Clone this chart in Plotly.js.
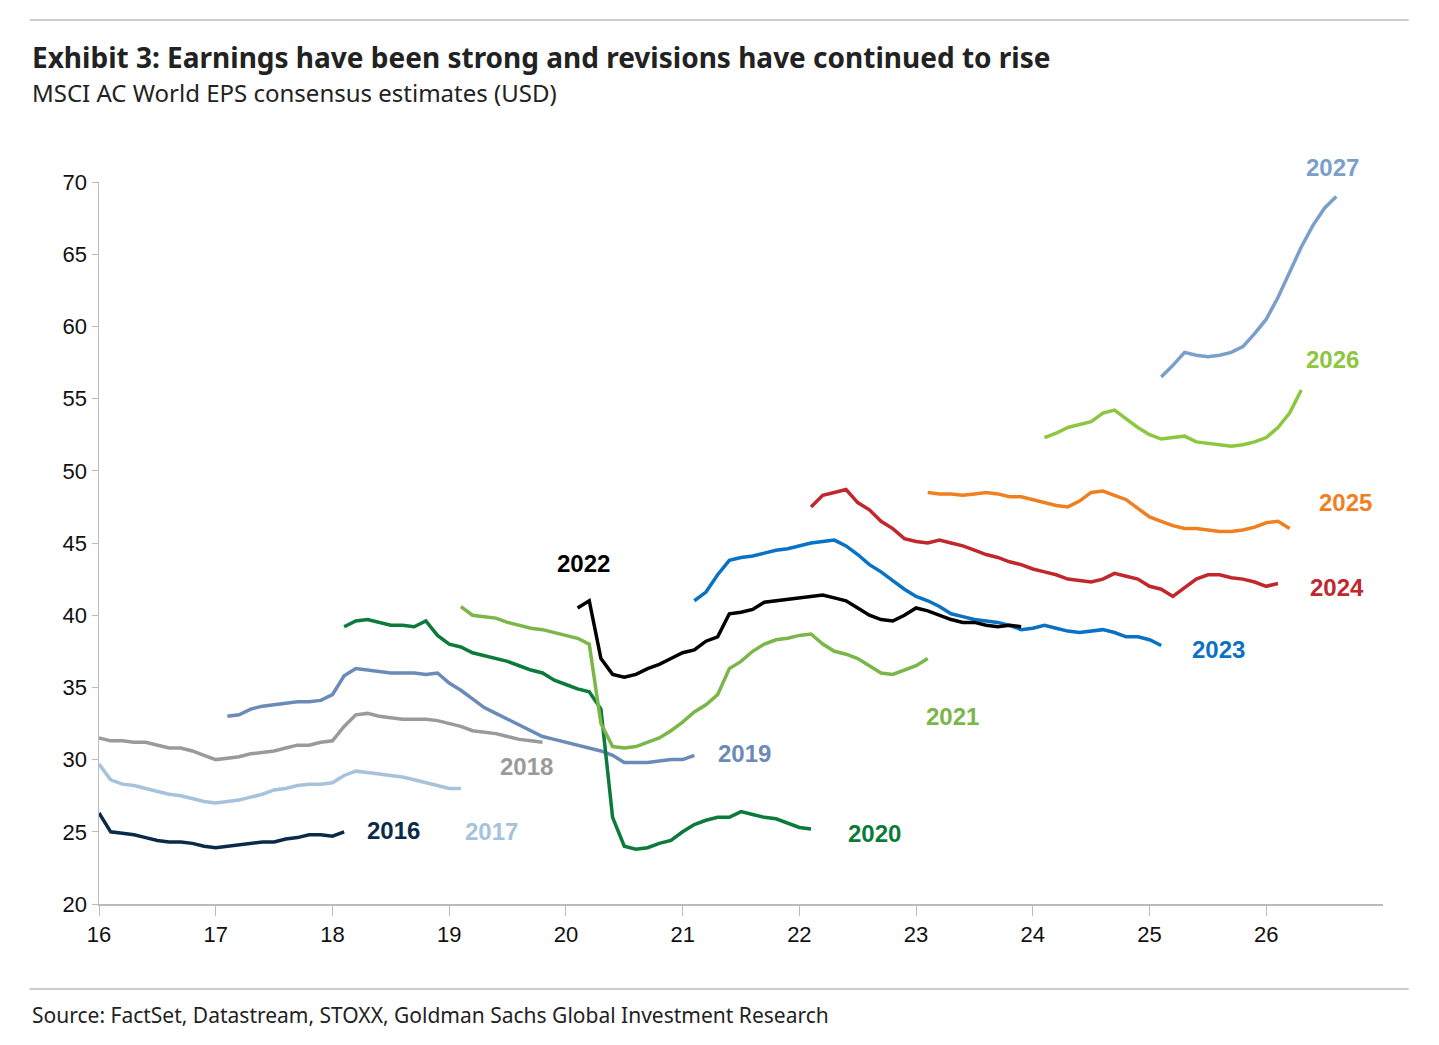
<!DOCTYPE html>
<html><head><meta charset="utf-8">
<script src="https://cdn.plot.ly/plotly-3.0.1.min.js"></script>
<style>body{margin:0;background:#fff}#c{width:1439px;height:1045px}</style>
</head><body><div id="c"></div>
<script>
const step = 0.1;
const names = ["2016","2017","2018","2019","2020","2021","2022","2023","2024","2025","2026","2027"];
const starts = [16.0,16.0,16.0,17.1,18.1,19.1,20.1,21.1,22.1,23.1,24.1,25.1];
const colors = ["#0b2a4a","#a7c3db","#9a9a9a","#6a8bb8","#0b7a3a","#7ab648","#000000","#0a72c4","#c0282d","#f07f22","#8dc63f","#7a9fcb"];
const v2016 = [26.3,25.0,24.9,24.8,24.6,24.4,24.3,24.3,24.2,24.0,23.9,24.0,24.1,24.2,24.3,24.3,24.5,24.6,24.8,24.8,24.7,25.0];
const v2017 = [29.7,28.6,28.3,28.2,28.0,27.8,27.6,27.5,27.3,27.1,27.0,27.1,27.2,27.4,27.6,27.9,28.0,28.2,28.3,28.3,28.4,28.9,29.2,29.1,29.0,28.9,28.8,28.6,28.4,28.2,28.0,28.0];
const v2018 = [31.5,31.3,31.3,31.2,31.2,31.0,30.8,30.8,30.6,30.3,30.0,30.1,30.2,30.4,30.5,30.6,30.8,31.0,31.0,31.2,31.3,32.3,33.1,33.2,33.0,32.9,32.8,32.8,32.8,32.7,32.5,32.3,32.0,31.9,31.8,31.6,31.4,31.3,31.2];
const v2019 = [33.0,33.1,33.5,33.7,33.8,33.9,34.0,34.0,34.1,34.5,35.8,36.3,36.2,36.1,36.0,36.0,36.0,35.9,36.0,35.3,34.8,34.2,33.6,33.2,32.8,32.4,32.0,31.6,31.4,31.2,31.0,30.8,30.6,30.3,29.8,29.8,29.8,29.9,30.0,30.0,30.3];
const v2020 = [39.2,39.6,39.7,39.5,39.3,39.3,39.2,39.6,38.6,38.0,37.8,37.4,37.2,37.0,36.8,36.5,36.2,36.0,35.5,35.2,34.9,34.7,33.5,26.0,24.0,23.8,23.9,24.2,24.4,25.0,25.5,25.8,26.0,26.0,26.4,26.2,26.0,25.9,25.6,25.3,25.2];
const v2021 = [40.6,40.0,39.9,39.8,39.5,39.3,39.1,39.0,38.8,38.6,38.4,38.0,32.5,30.9,30.8,30.9,31.2,31.5,32.0,32.6,33.3,33.8,34.5,36.3,36.8,37.5,38.0,38.3,38.4,38.6,38.7,38.0,37.5,37.3,37.0,36.5,36.0,35.9,36.2,36.5,37.0];
const v2022 = [40.5,41.0,37.0,35.9,35.7,35.9,36.3,36.6,37.0,37.4,37.6,38.2,38.5,40.1,40.2,40.4,40.9,41.0,41.1,41.2,41.3,41.4,41.2,41.0,40.5,40.0,39.7,39.6,40.0,40.5,40.3,40.0,39.7,39.5,39.5,39.3,39.2,39.3,39.2];
const v2023 = [41.0,41.6,42.8,43.8,44.0,44.1,44.3,44.5,44.6,44.8,45.0,45.1,45.2,44.8,44.2,43.5,43.0,42.4,41.8,41.3,41.0,40.6,40.1,39.9,39.7,39.6,39.5,39.3,39.0,39.1,39.3,39.1,38.9,38.8,38.9,39.0,38.8,38.5,38.5,38.3,37.9];
const v2024 = [47.5,48.3,48.5,48.7,47.8,47.3,46.5,46.0,45.3,45.1,45.0,45.2,45.0,44.8,44.5,44.2,44.0,43.7,43.5,43.2,43.0,42.8,42.5,42.4,42.3,42.5,42.9,42.7,42.5,42.0,41.8,41.3,41.9,42.5,42.8,42.8,42.6,42.5,42.3,42.0,42.2];
const v2025 = [48.5,48.4,48.4,48.3,48.4,48.5,48.4,48.2,48.2,48.0,47.8,47.6,47.5,47.9,48.5,48.6,48.3,48.0,47.4,46.8,46.5,46.2,46.0,46.0,45.9,45.8,45.8,45.9,46.1,46.4,46.5,46.0];
const v2026 = [52.3,52.6,53.0,53.2,53.4,54.0,54.2,53.6,53.0,52.5,52.2,52.3,52.4,52.0,51.9,51.8,51.7,51.8,52.0,52.3,53.0,54.0,55.6];
const v2027 = [56.5,57.3,58.2,58.0,57.9,58.0,58.2,58.6,59.5,60.5,62.0,63.8,65.5,67.0,68.2,69.0];
const series = [v2016,v2017,v2018,v2019,v2020,v2021,v2022,v2023,v2024,v2025,v2026,v2027];
const labelX = [18.52,19.36,19.66,21.53,22.64,23.31,20.15,25.59,26.61,26.68,26.57,26.57];
const labelY = [25.1,25.05,29.5,30.4,24.85,33.0,43.55,37.6,41.9,47.8,57.7,69.9];
const xTicks = [16,17,18,19,20,21,22,23,24,25,26];
const order = [0,1,2,3,4,5,7,6,8,9,10,11];
const traces = order.map(i => ({
  x: series[i].map((_, k) => +(starts[i] + k*step).toFixed(2)),
  y: series[i], type:'scatter', mode:'lines',
  line:{color:colors[i], width:3.5}, showlegend:false, hoverinfo:'skip'
}));
const ann = names.map((n,i)=>({x:labelX[i],y:labelY[i],xref:'x',yref:'y',text:'<b>'+n+'</b>',showarrow:false,
  yanchor: i===11 ? 'bottom' : 'middle',
  font:{family:'Liberation Sans, Arial',size:24,color:colors[i]}}));
ann.push({xref:'paper',yref:'paper',x:-0.054,y:(904-57)/722,xanchor:'left',yanchor:'middle',showarrow:false,
  text:'<b>Exhibit 3: Earnings have been strong and revisions have continued to rise</b>',font:{family:'Noto Sans',size:28,color:'#222'}});
ann.push({xref:'paper',yref:'paper',x:-0.054,y:(904-93)/722,xanchor:'left',yanchor:'middle',showarrow:false,
  text:'MSCI AC World EPS consensus estimates (USD)',font:{family:'Noto Sans',size:24,color:'#222'}});
ann.push({xref:'paper',yref:'paper',x:-0.054,y:-(1015-904)/722,xanchor:'left',yanchor:'middle',showarrow:false,
  text:'Source: FactSet, Datastream, STOXX, Goldman Sachs Global Investment Research',font:{family:'Noto Sans',size:21,color:'#222'}});
const layout = {
  width:1439,height:1045,margin:{l:99,r:56,t:182,b:141},paper_bgcolor:'#fff',plot_bgcolor:'#fff',
  xaxis:{range:[16,27],tickvals:xTicks,ticktext:xTicks.map(String),showgrid:false,zeroline:false,showline:true,
    linecolor:'#bbb',linewidth:1.5,ticks:'outside',ticklen:10,tickcolor:'#bbb',tickfont:{family:'Liberation Sans, Arial',size:22,color:'#111'}},
  yaxis:{range:[20,70],dtick:5,showgrid:false,zeroline:false,showline:true,linecolor:'#bbb',linewidth:1.5,
    ticks:'outside',ticklen:6,tickcolor:'#bbb',tickfont:{family:'Liberation Sans, Arial',size:22,color:'#111'}},
  annotations:ann,
  shapes:[
    {type:'line',xref:'paper',yref:'paper',x0:-0.054,x1:1.02,y0:(904-20)/722,y1:(904-20)/722,line:{color:'#999',width:1}},
    {type:'line',xref:'paper',yref:'paper',x0:-0.054,x1:1.02,y0:-(989-904)/722,y1:-(989-904)/722,line:{color:'#999',width:1}}
  ]
};
Plotly.newPlot('c',traces,layout,{staticPlot:true});
</script></body></html>
